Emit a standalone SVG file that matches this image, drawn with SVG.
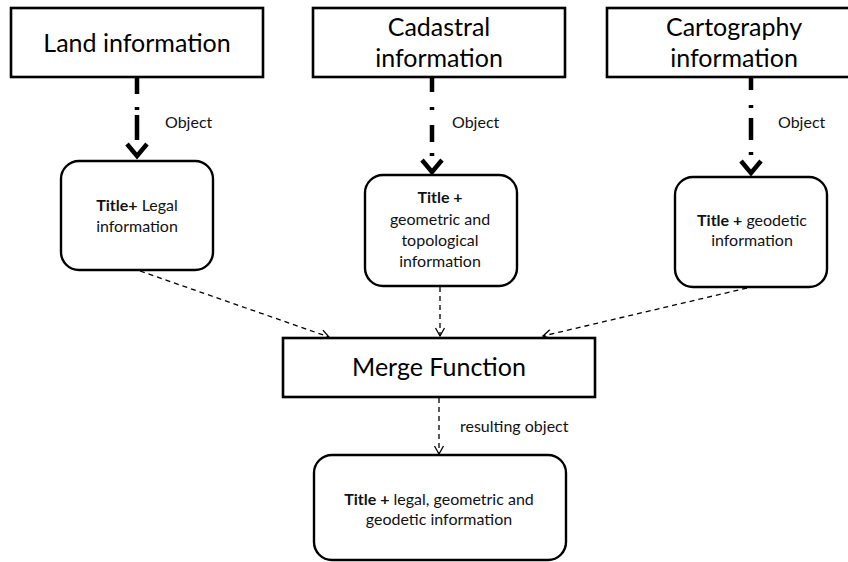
<svg xmlns="http://www.w3.org/2000/svg" width="848" height="562" viewBox="0 0 848 562">
<defs>
<style>
.box{fill:#fff;stroke:#000;stroke-width:2.6}
.node{fill:#fff;stroke:#000;stroke-width:2.4}
.big{font-family:Lato,"Open Sans","Liberation Sans",sans-serif;font-size:25px;fill:#000;text-anchor:middle}
.sm{font-family:Lato,"Open Sans","Liberation Sans",sans-serif;font-size:16px;fill:#111;text-anchor:middle}
.lbl{font-family:Lato,"Open Sans","Liberation Sans",sans-serif;font-size:16px;fill:#111}
.b{font-weight:bold}
.thick{fill:none;stroke:#000;stroke-width:4.5}
.thin{fill:none;stroke:#000;stroke-width:1.3;stroke-dasharray:5 4}
</style>
<marker id="chev" markerUnits="userSpaceOnUse" markerWidth="30" markerHeight="30" viewBox="-20 -15 30 30" refX="0" refY="0" orient="auto" overflow="visible">
<path d="M-13,-10 L-1,0 L-13,10" fill="none" stroke="#000" stroke-width="4.5"/>
</marker>
<marker id="small" markerUnits="userSpaceOnUse" markerWidth="20" markerHeight="20" viewBox="-10 -10 20 20" refX="0" refY="0" orient="auto" overflow="visible">
<path d="M-8,-4.5 L0,0 L-8,4.5" fill="none" stroke="#000" stroke-width="1.3"/>
</marker>
</defs>
<rect width="848" height="562" fill="#fff"/>

<g id="land">
<rect class="box" x="11" y="8" width="252" height="69"/>
<text class="big" x="137" y="52">Land information</text>
</g>
<g id="cadastral">
<rect class="box" x="313" y="8" width="252" height="69"/>
<text class="big" x="439" y="36">Cadastral</text>
<text class="big" x="439" y="67">information</text>
</g>
<g id="cartography">
<rect class="box" x="607" y="8" width="252" height="69"/>
<text class="big" x="734" y="36">Cartography</text>
<text class="big" x="734" y="67">information</text>
</g>

<g id="legal">
<rect class="node" x="61" y="161" width="152" height="109" rx="18"/>
<text class="sm" x="137" y="211"><tspan class="b">Title+</tspan> Legal</text>
<text class="sm" x="137" y="232">information</text>
</g>
<g id="geometric">
<rect class="node" x="365" y="175" width="152" height="111" rx="18"/>
<text class="sm" x="440" y="203"><tspan class="b">Title +</tspan></text>
<text class="sm" x="440" y="225">geometric and</text>
<text class="sm" x="440" y="246">topological</text>
<text class="sm" x="440" y="267">information</text>
</g>
<g id="geodetic">
<rect class="node" x="675" y="177" width="152" height="110" rx="18"/>
<text class="sm" x="752" y="226"><tspan class="b">Title +</tspan> geodetic</text>
<text class="sm" x="752" y="246">information</text>
</g>

<g id="merge">
<rect class="box" x="283" y="338" width="312" height="59"/>
<text class="big" x="439" y="376">Merge Function</text>
</g>

<g id="result">
<rect class="node" x="314" y="455" width="252" height="105" rx="18"/>
<text class="sm" x="439" y="505"><tspan class="b">Title +</tspan> legal, geometric and</text>
<text class="sm" x="439" y="525">geodetic information</text>
</g>

<g id="connectors">
<path class="thick" d="M137,77 L137,157" stroke-dasharray="17 13 3 5 25 17" marker-end="url(#chev)"/>
<path class="thick" d="M432,77 L432,173" stroke-dasharray="15 15 3 15 17 11 3 17" marker-end="url(#chev)"/>
<path class="thick" d="M751,77 L751,174" stroke-dasharray="13 15 3 10 22 12 3 19" marker-end="url(#chev)"/>
<path class="thin" d="M140,271 L329,337" marker-end="url(#small)"/>
<path class="thin" d="M440,287 L440,336" marker-end="url(#small)"/>
<path class="thin" d="M747,288 L543,336" marker-end="url(#small)"/>
<path class="thin" d="M439,398 L439,454" marker-end="url(#small)"/>
<text class="lbl" x="165" y="128">Object</text>
<text class="lbl" x="452" y="128">Object</text>
<text class="lbl" x="778" y="128">Object</text>
<text class="lbl" x="460" y="432">resulting object</text>
</g>
</svg>
